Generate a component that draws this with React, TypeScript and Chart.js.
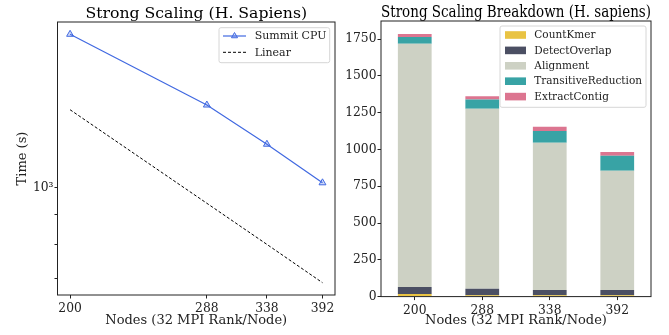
import React, { useEffect, useRef } from "react";
import { Chart, registerables } from "chart.js";
Chart.register(...registerables);

// ---- data ----
const nodes = [200, 288, 338, 392];
const nodeLabels = ["200", "288", "338", "392"];
const summitCpu = [1815, 1378, 1183, 1018];
const linearIdeal = [1353, 940, 801, 690];
const logYTicks = [700, 800, 900, 1000];

const countKmer = [18, 10, 10, 10];
const detectOverlap = [47, 44, 35, 35];
const alignment = [1653, 1223, 1001, 810];
const transitiveReduction = [46, 63, 79, 102];
const extractContig = [20, 22, 29, 25];
const barYTicks = [0, 250, 500, 750, 1000, 1250, 1500, 1750];

const SERIF = "'DejaVu Serif', serif";
const INK = "#222222";

const framePlugin = {
  id: "frame",
  afterDatasetsDraw(chart: any) {
    const { ctx, chartArea: a } = chart;
    ctx.save();
    ctx.strokeStyle = INK;
    ctx.lineWidth = 1;
    ctx.strokeRect(a.left, a.top, a.right - a.left, a.bottom - a.top);
    ctx.restore();
  },
};

function roundRect(ctx: CanvasRenderingContext2D, x: number, y: number, w: number, h: number, r: number) {
  ctx.beginPath();
  ctx.moveTo(x + r, y);
  ctx.lineTo(x + w - r, y);
  ctx.quadraticCurveTo(x + w, y, x + w, y + r);
  ctx.lineTo(x + w, y + h - r);
  ctx.quadraticCurveTo(x + w, y + h, x + w - r, y + h);
  ctx.lineTo(x + r, y + h);
  ctx.quadraticCurveTo(x, y + h, x, y + h - r);
  ctx.lineTo(x, y + r);
  ctx.quadraticCurveTo(x, y, x + r, y);
  ctx.closePath();
}

const lineLegendPlugin = {
  id: "lineLegend",
  afterDraw(chart: any) {
    const ctx: CanvasRenderingContext2D = chart.ctx;
    const a = chart.chartArea;
    const w = 110.7, h = 35;
    const x = a.right - 5.3 - w, y = a.top + 5.7;
    ctx.save();
    roundRect(ctx, x, y, w, h, 2);
    ctx.fillStyle = "rgba(255,255,255,0.8)";
    ctx.fill();
    ctx.strokeStyle = "#d6d6d6";
    ctx.lineWidth = 1;
    ctx.stroke();
    ctx.font = `11px ${SERIF}`;
    ctx.textBaseline = "middle";
    ctx.textAlign = "left";
    chart.data.datasets.forEach((ds: any, i: number) => {
      const ry = y + 8.3 + i * 16.3;
      const x0 = x + 4, x1 = x + 27;
      ctx.strokeStyle = ds.borderColor;
      ctx.lineWidth = ds.borderWidth;
      ctx.setLineDash(ds.borderDash || []);
      ctx.beginPath();
      ctx.moveTo(x0, ry);
      ctx.lineTo(x1, ry);
      ctx.stroke();
      ctx.setLineDash([]);
      if (ds.pointRadius > 0) {
        const cx = (x0 + x1) / 2, r = 3.5;
        ctx.beginPath();
        ctx.moveTo(cx, ry - r);
        ctx.lineTo(cx + r * 0.87, ry + r * 0.5);
        ctx.lineTo(cx - r * 0.87, ry + r * 0.5);
        ctx.closePath();
        ctx.fillStyle = ds.pointBackgroundColor;
        ctx.fill();
        ctx.strokeStyle = ds.pointBorderColor;
        ctx.lineWidth = 1;
        ctx.stroke();
      }
      ctx.fillStyle = INK;
      ctx.fillText(ds.label, x + 35.7, ry + 0.5);
    });
    ctx.restore();
  },
};

const barLegendPlugin = {
  id: "barLegend",
  afterDraw(chart: any) {
    const ctx: CanvasRenderingContext2D = chart.ctx;
    const a = chart.chartArea;
    const w = 146, h = 81.3;
    const x = a.right - 5 - w, y = a.top + 5;
    ctx.save();
    roundRect(ctx, x, y, w, h, 2);
    ctx.fillStyle = "rgba(255,255,255,0.8)";
    ctx.fill();
    ctx.strokeStyle = "#d6d6d6";
    ctx.lineWidth = 1;
    ctx.stroke();
    ctx.font = `10.5px ${SERIF}`;
    ctx.textBaseline = "middle";
    ctx.textAlign = "left";
    chart.data.datasets.forEach((ds: any, i: number) => {
      const ry = y + 9 + i * 15.4;
      ctx.fillStyle = ds.backgroundColor;
      ctx.fillRect(x + 5, ry - 3.8, 21, 7.6);
      ctx.fillStyle = INK;
      ctx.fillText(ds.label, x + 34.3, ry + 0.5);
    });
    ctx.restore();
  },
};

export default function App() {
  const leftRef = useRef<HTMLCanvasElement>(null);
  const rightRef = useRef<HTMLCanvasElement>(null);

  useEffect(() => {
    Chart.defaults.font.family = SERIF;
    Chart.defaults.color = INK;

    const left = new Chart(leftRef.current!, {
      type: "line",
      data: {
        datasets: [
          {
            label: "Summit CPU",
            data: nodes.map((n, i) => ({ x: n, y: summitCpu[i] })),
            borderColor: "#4169e1",
            borderWidth: 1.2,
            pointStyle: "triangle",
            pointRadius: 4,
            pointBackgroundColor: "rgba(65,105,225,0.25)",
            pointBorderColor: "#4169e1",
            pointBorderWidth: 1,
            tension: 0,
          },
          {
            label: "Linear",
            data: nodes.map((n, i) => ({ x: n, y: linearIdeal[i] })),
            borderColor: "#000000",
            borderWidth: 1,
            borderDash: [3, 2],
            pointRadius: 0,
            tension: 0,
          },
        ],
      },
      options: {
        animation: false,
        responsive: false,
        devicePixelRatio: 1,
        layout: { padding: { left: 0, right: 4, top: 0, bottom: 0 } },
        plugins: {
          legend: { display: false },
          tooltip: { enabled: false },
          title: {
            display: true,
            text: "Strong Scaling (H. Sapiens)",
            fullSize: false,
            color: "#000",
            font: { size: 15.7, weight: "normal", family: SERIF, lineHeight: 1.0 },
            padding: { top: 6.3, bottom: 0 },
          },
        },
        scales: {
          x: {
            type: "logarithmic",
            min: 193.4,
            max: 405.3,
            afterBuildTicks: (s: any) => {
              s.ticks = nodes.map((v) => ({ value: v }));
            },
            afterFit: (s: any) => {
              s.height = 40;
            },
            ticks: {
              autoSkip: false,
              maxRotation: 0,
              padding: 3,
              font: { size: 12.3 },
              callback: (v: any) => String(v),
            },
            grid: { drawOnChartArea: false, tickLength: 3.5, color: INK },
            border: { display: false },
            title: {
              display: true,
              text: "Nodes (32 MPI Rank/Node)",
              font: { size: 13 },
              padding: { top: 0, bottom: 6.5 },
            },
          },
          y: {
            type: "logarithmic",
            min: 657.7,
            max: 1904,
            afterBuildTicks: (s: any) => {
              s.ticks = logYTicks.map((v) => ({ value: v }));
            },
            afterFit: (s: any) => {
              s.width = 57.5;
            },
            ticks: {
              autoSkip: false,
              padding: 1,
              font: { size: 12.3 },
              callback: (v: any) => (v === 1000 ? "10³" : ""),
            },
            grid: { drawOnChartArea: false, tickLength: 3, color: INK },
            border: { display: false },
            title: {
              display: true,
              text: "Time (s)",
              font: { size: 13 },
              padding: { top: 15, bottom: 15 },
            },
          },
        },
      } as any,
      plugins: [framePlugin, lineLegendPlugin],
    });

    const right = new Chart(rightRef.current!, {
      type: "bar",
      data: {
        labels: nodeLabels,
        datasets: [
          { label: "CountKmer", data: countKmer, backgroundColor: "#e9c343" },
          { label: "DetectOverlap", data: detectOverlap, backgroundColor: "#4b4f63" },
          { label: "Alignment", data: alignment, backgroundColor: "#cdd1c4" },
          { label: "TransitiveReduction", data: transitiveReduction, backgroundColor: "#38a3a5" },
          { label: "ExtractContig", data: extractContig, backgroundColor: "#dc7590" },
        ],
      },
      options: {
        animation: false,
        responsive: false,
        devicePixelRatio: 1,
        layout: { padding: { left: 0, right: 18, top: 0, bottom: 0 } },
        datasets: { bar: { categoryPercentage: 1, barPercentage: 0.5, borderWidth: 0 } },
        plugins: {
          legend: { display: false },
          tooltip: { enabled: false },
          title: {
            display: true,
            text: "Strong Scaling Breakdown (H. sapiens)",
            fullSize: false,
            color: "#000",
            font: { size: 15.8, weight: "normal", family: SERIF, lineHeight: 1.0 },
            padding: { top: 5.2, bottom: 0 },
          },
        },
        scales: {
          x: {
            stacked: true,
            afterFit: (s: any) => {
              s.height = 38.4;
            },
            ticks: { padding: 3, font: { size: 12.3 }, maxRotation: 0 },
            grid: { drawOnChartArea: false, offset: false, tickLength: 3.5, color: INK },
            border: { display: false },
            title: {
              display: true,
              text: "Nodes (32 MPI Rank/Node)",
              font: { size: 13 },
              padding: { top: 0, bottom: 6.5 },
            },
          },
          y: {
            stacked: true,
            min: 0,
            max: 1873,
            afterBuildTicks: (s: any) => {
              s.ticks = barYTicks.map((v) => ({ value: v }));
            },
            afterFit: (s: any) => {
              s.width = 41;
            },
            ticks: {
              padding: 1,
              font: { size: 12.3 },
              autoSkip: false,
              callback: (v: any) => String(v),
            },
            grid: { drawOnChartArea: false, tickLength: 3.5, color: INK },
            border: { display: false },
          },
        },
      } as any,
      plugins: [framePlugin, barLegendPlugin],
    });

    return () => {
      left.destroy();
      right.destroy();
    };
  }, []);

  return (
    <div style={{ position: "fixed", left: 0, top: 0, width: 669, height: 335, background: "#fff" }}>
      <canvas ref={leftRef} width={340} height={335} style={{ position: "absolute", left: 0, top: 0 }} />
      <canvas ref={rightRef} width={329} height={335} style={{ position: "absolute", left: 340, top: 0 }} />
    </div>
  );
}
